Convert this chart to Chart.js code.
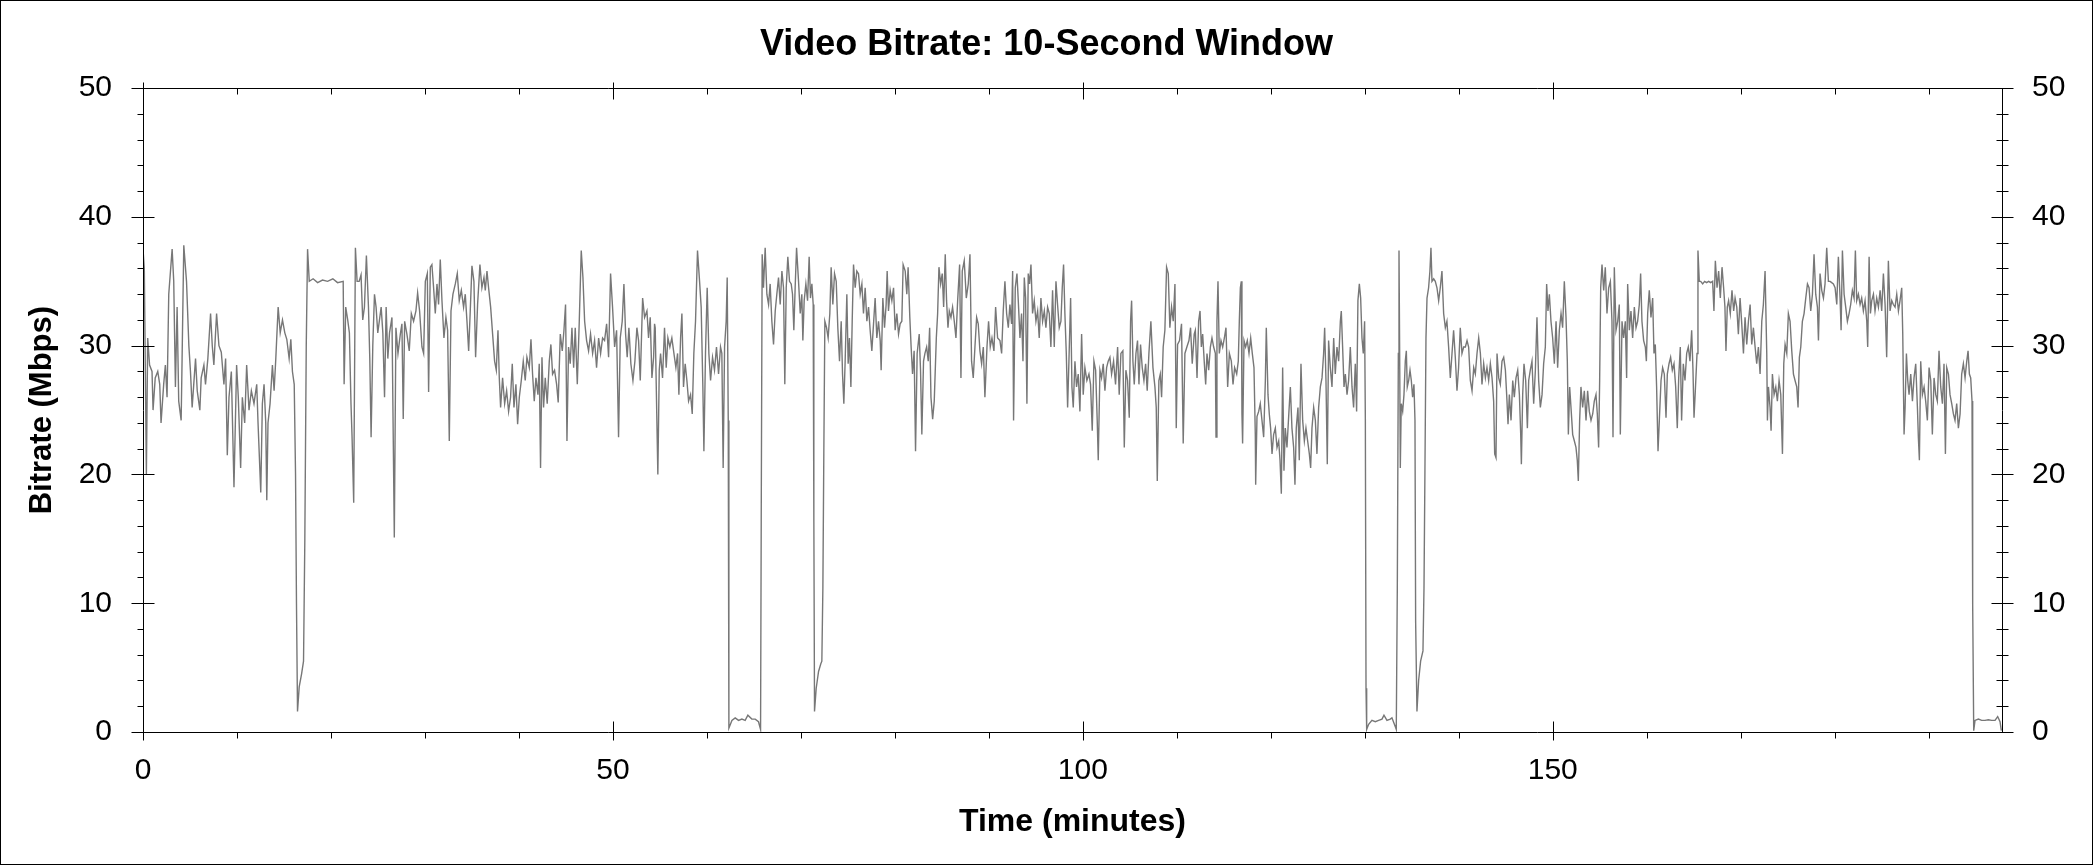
<!DOCTYPE html>
<html>
<head>
<meta charset="utf-8">
<script src="https://cdn.jsdelivr.net/npm/chart.js@4.4.1/dist/chart.umd.min.js"></script>
<style>
  html, body { margin: 0; padding: 0; background: #ffffff; }
  canvas { display: block; }
</style>
</head>
<body>
<canvas id="c" width="2093" height="865"></canvas>
<script>
// ---------------- DATA ----------------
const chartTitle = 'Video Bitrate: 10-Second Window';
const xAxisTitle = 'Time (minutes)';
const yAxisTitle = 'Bitrate (Mbps)';
const xMax = 197.8;
const xTickValues = [0, 50, 100, 150];
const yTickValues = [0, 10, 20, 30, 40, 50];
const xMinorStep = 10;
const yMinorStep = 2;

// time in minutes / bitrate in Mbps, segment by segment
const seg1Time = [
0,0.14,0.36,0.5,0.7,0.96,1.07,1.3,1.57,1.78,
1.92,2.2,2.38,2.56,2.74,3.1,3.27,3.45,3.63,3.8,
4.06,4.16,4.34,4.63,4.88,5.05,5.23,5.4,5.59,5.77,
6.05,6.19,6.48,6.65,6.9,7.19,7.37,7.54,7.83,8.08,
8.33,8.61,8.79,8.97,9.15,9.4,9.68,9.96,10.14,10.39,
10.57,10.82,11.03,11.28,11.53,11.81,12.1,12.24,12.53,12.7,
12.88,13.06,13.17,13.3,13.52,13.77,13.95,14.13,14.38,14.6,
14.84,15.09,15.3,15.55,15.73,15.9,16.09,16.23,16.33,16.44,
16.62,16.87,17.08,17.22,17.37,17.51,17.69,18.1,18.58,19.1,
19.64,20.2,20.7,21.3,21.4,21.57,21.78,21.96,22.13,22.24,
22.42,22.6,22.78,23.0,23.2,23.38,23.56,23.77,23.99,24.13,
24.27,24.45,24.63,24.8,24.98,25.16,25.34,25.52,25.7,25.87,
26.05,26.23];
const seg1Rate = [
37.5,36,20,30.6,28.5,28,25,27.5,28,27,
24,27,28.5,26,34,37.5,35,26.8,33,25.7,
24.2,29,37.8,35,30,28,25.2,27,29,26.5,
25,27.5,28.5,27,29,32.5,30,28.5,32.5,30,
29.5,27,29,21.5,26,28,19,28.5,26,20.5,
26,24,28.5,25,26.5,25.5,27,24,18.6,25.5,
27,24,18,24,25.5,28.5,26.5,29,33,31,
32,31,30.5,29,30.5,28,27,20,10,1.6,
3.5,4.5,5.5,15,30,37.5,35,35.2,34.9,35.1,
35,35.2,34.9,35,27,33,32,31,25.5,23,
17.8,37.6,35,35,35.5,32,33,37,33,29,
22.9,30,34,33,31,32,33,31,26,33,
29,31];

const seg2Time = [
26.49,26.74,26.91,27.13,27.38,27.55,27.69,27.84,28.08,28.33,
28.55,28.79,29.04,29.22,29.43,29.68,29.86,30.04,30.25,30.39,
30.57,30.74,30.92,31.1,31.28,31.45,31.63,31.81,32.02,32.23,
32.41,32.59,32.77,32.98,33.23,33.44,33.65,33.87,34.11,34.29,
34.47,34.65,34.82,35.0,35.21,35.39,35.6,35.85,36.06,36.28,
36.42,36.6,36.77,36.99,37.2,37.41,37.59,37.77,37.91,38.05,
38.26,38.48,38.69,38.9,39.11,39.29,39.47,39.68,39.86,40.04,
40.25,40.46,40.67,40.85,41.1,41.28,41.45,41.63,41.81,42.02,
42.16,42.3,42.45,42.62,42.8,43.01,43.23,43.4,43.58,43.79,
44.01,44.18,44.4,44.61,44.79,44.96,45.11,45.28,45.46,45.64,
45.82,45.99,46.21,46.42,46.63,46.81,46.99,47.2,47.41,47.62,
47.84,48.05,48.26,48.48,48.69,48.9,49.11,49.33,49.54,49.75,
49.96,50.18,50.39,50.6,50.78,50.99,51.17,51.35,51.52,51.7,
51.91,52.13,52.34,52.55,52.73,52.91,53.16,53.37,53.62,53.79,
53.97,54.15,54.33,54.43];
const seg2Rate = [
32.2,15.1,31.4,29.4,30.9,31.7,24.3,31.9,30.9,29.6,
32.5,31.9,32.7,34.1,32.7,29.9,29.4,35,35.6,26.4,
36.1,36.3,34.5,32.5,34.8,33.2,36.7,33.5,30.6,32.2,
31.2,22.6,32.7,34,34.8,35.6,33.5,34.3,33,34,
31.9,29.6,32.7,36.2,35,29.1,33.2,36.3,34.5,35.3,
34.3,35.8,34.5,33,30.9,28.8,28.1,31.2,27.5,25.2,
27.5,25.5,26.5,24.9,26,28.6,25.2,27,23.9,26,
27.3,28.8,27.3,29.1,28.3,30.5,27.8,25.7,27.5,26.2,
28.6,20.5,29.1,25.2,27.5,25.5,28.8,30.1,27.8,28.1,
27,25.6,30.9,29.6,31.2,33.2,22.6,29.9,28.6,31.4,
28.3,31.4,27,31.9,37.4,35.3,31.9,30.4,29.6,30.9,
29.4,30.4,28.3,30.6,29.4,30.6,30.4,31.7,29.1,35.6,
33,29.9,31.2,22.9,30.6,31.9,34.8,30.9,29.1,31.4,
28.6,27.3,28.8,31.4,30.4,27.3,33.7,32.2,32.7,30.6,
32.2,27.5,29.1,31.7];

const seg3Time = [
54.5,54.78,54.93,55.07,55.28,55.49,55.67,55.85,56.06,56.27,
56.49,56.7,56.88,57.02,57.2,57.34,57.51,57.69,57.87,58.05,
58.26,58.44,58.61,58.79,59.0,59.22,59.39,59.57,59.68,59.85,
60.03,60.21,60.39,60.6,60.81,61.02,61.24,61.45,61.59,61.73,
61.88,62.05,62.16,62.27,62.34,62.66,63.01,63.37,63.72,64.07,
64.36,64.78,65.14,65.49,65.71,65.78,65.88,66.02,66.2,66.38,
66.56,66.73,66.91,67.09,67.27,67.44,67.62,67.8,67.98,68.15,
68.29,68.44,68.61,68.79,68.97,69.11,69.25,69.39,69.54,69.75,
69.93,70.1,70.21,70.35,70.53,70.71,70.88,71.02,71.17,71.31,
71.38,71.45,71.63,71.88,72.12,72.23,72.34,72.44,72.55,72.73,
72.9,73.08,73.22,73.4,73.58,73.76,73.93,74.11,74.29,74.43,
74.57,74.71,74.89,75.03,75.17,75.32,75.46,75.6,75.78,75.95,
76.13,76.31,76.49,76.66,76.84,77.02,77.2,77.37,77.55,77.73,
77.9,78.08,78.26,78.44,78.54,78.72,78.9,79.07,79.18,79.32,
79.5,79.68,79.86,80.03,80.21,80.39,80.56,80.74,80.88,81.1,
81.27,81.41,81.59,81.73,81.88,82.05,82.2,82.37,82.59,82.73,
82.87,83.05];
const seg3Rate = [
31.4,20,28.1,29.4,27.5,31.4,28.3,30.6,29.9,30.6,
29.4,28.3,29.4,26.2,30.6,32.5,26.8,28.6,27.3,25.7,
26.2,24.7,29.4,31.9,37.4,35,33,26.8,21.8,29.4,
34.5,29.4,27.3,29.1,28.1,29.9,27.8,29.9,29.4,20.5,
29.9,31.9,35.3,24.2,0.3,0.9,1.1,0.9,1.0,0.9,
1.3,1.0,1.0,0.8,0.2,16.4,37.1,34.5,37.6,34,
33.2,34.8,31.9,30.1,32.7,34,35.3,33.2,35.8,34.5,
27,34.5,36.9,35,34.8,34,31.2,34.5,37.6,35,
32.5,34,30.4,33.5,34.8,33.5,36.9,33.7,34.8,33.2,
16.4,1.6,3.4,4.7,5.3,5.5,11.2,21.6,31.9,31.4,
30.6,32.5,36.1,33.2,35.6,35,31.4,28.8,31.9,27.8,
25.5,28.8,34,28.6,30.6,26.8,31.9,36.3,34.5,35.8,
35.6,34,34.8,32.5,34.5,31.9,33,31.2,29.6,31.7,
33.7,30.6,31.9,30.4,28.1,33.7,31.4,33.2,35.8,32.7,
34.3,33.5,34.5,31.2,32.5,30.9,31.7,31.9,36.3,35.8,
34,36.1,32.2,29.9,27.8,29.6,21.8,29.4,30.9,28.1,
23.1,28.8];

const seg4Time = [
83.2,83.38,83.55,83.7,83.84,84.02,84.19,84.41,84.55,84.69,
84.87,85.04,85.19,85.36,85.5,85.65,85.79,85.97,86.14,86.32,
86.5,86.68,86.89,87.03,87.17,87.38,87.6,87.81,87.99,88.16,
88.34,88.52,88.7,88.87,89.05,89.23,89.41,89.58,89.8,89.97,
90.15,90.33,90.54,90.72,90.93,91.18,91.36,91.53,91.71,91.89,
92.07,92.24,92.42,92.53,92.63,92.81,92.99,93.13,93.31,93.48,
93.63,93.77,93.91,94.05,94.19,94.33,94.48,94.65,94.83,95.01,
95.19,95.36,95.54,95.72,95.9,96.07,96.25,96.43,96.6,96.78,
96.96,97.14,97.31,97.49,97.67,97.81,97.95,98.09,98.24,98.38,
98.52,98.7,98.84,98.98,99.16,99.33,99.51,99.69,99.87,100.04,
100.22,100.43,100.65,100.82,101.0,101.18,101.36,101.53,101.64,101.82,
101.99,102.17,102.35,102.53,102.7,102.88,103.06,103.27,103.48,103.7,
103.87,104.05,104.26,104.41,104.58,104.76,104.94,105.08,105.19,105.33,
105.47,105.65,105.82,105.97,106.14,106.32,106.5,106.68,106.85,107.03,
107.24,107.46,107.67,107.81,107.92,108.09,108.24,108.38,108.55,108.73,
108.91,109.09,109.26,109.44,109.62,109.8,109.94,110.08,110.29,110.5,
110.68,110.86,111.07,111.29,111.46,111.64,111.85];
const seg4Rate = [
29.4,29.9,28.8,31.4,26,24.3,25.7,30.6,32.5,36.1,
34.8,35.6,33,37.1,33.5,31.4,32.7,32.2,33,31.9,
30.6,33.5,36.3,27.5,35.8,36.6,33.7,34.8,37.1,28.8,
27.5,29.9,32.2,31.7,29.6,28.6,29.9,26,29.9,31.9,
29.9,30.6,29.6,33,30.6,30.4,29.4,32.7,35,32.5,
31.4,33.2,31.7,35.8,24.2,34.5,35.6,33.5,30.6,32.5,
28.8,35.3,33.7,25.5,35.6,34.8,36.3,32.5,33.5,31.9,
32.7,30.6,33.7,31.9,32.7,31.4,33,32.5,29.9,34.3,
29.9,35,33.2,31.4,31.9,34.5,36.3,32.5,29.4,25.2,
28.8,33.7,26.8,25.2,28.8,26.8,27.8,24.9,30.9,26.2,
28.3,27.3,27.8,27,23.4,28.8,28.1,24.2,21.1,28.1,
27.5,28.6,26.5,28.3,28.8,29.1,27.8,28.8,27,29.9,
26.2,29.4,29.6,22.1,28.1,27.3,24.4,31.9,33.5,28.8,
27,29.4,30.4,27,30.1,28.3,27.3,28.6,26.5,29.4,
31.9,28.3,26.8,25.2,19.5,27.3,27.8,26,29.9,31.2,
36.1,35.6,31.4,33,31.9,34.8,23.6,30.1,30.4,31.7,
22.4,29.4,29.9,30.4,31.4,28.6,30.9];

const seg5Time = [
111.97,112.15,112.32,112.47,112.61,112.75,112.93,113.07,113.21,113.39,
113.57,113.74,113.92,114.1,114.17,114.27,114.38,114.52,114.7,114.88,
115.06,115.23,115.41,115.59,115.8,115.98,116.15,116.37,116.54,116.65,
116.76,116.86,116.93,117.0,117.15,117.32,117.5,117.68,117.86,118.03,
118.21,118.35,118.39,118.53,118.71,118.88,119.06,119.24,119.42,119.52,
119.7,119.84,119.98,120.13,120.3,120.48,120.66,120.84,120.98,121.12,
121.26,121.4,121.54,121.72,121.9,122.08,122.25,122.43,122.57,122.71,
122.89,123.03,123.21,123.39,123.57,123.74,123.92,124.1,124.24,124.38,
124.56,124.74,124.91,125.09,125.27,125.45,125.62,125.73,125.87,126.01,
126.15,126.33,126.51,126.69,126.86,127.04,127.22,127.4,127.5,127.64,
127.79,127.93,128.11,128.28,128.46,128.64,128.81,128.99,129.13,129.27,
129.42,129.56,129.7,129.84,129.98,130.06,130.13,130.2,130.41,130.76,
131.12,131.47,131.83,132.04,132.36,132.71,132.89,133.25,133.35,133.46,
133.57,133.64,133.71,133.78,133.88,134.03,134.17,134.31,134.42,134.52,
134.67,134.81,134.95,135.09,135.23,135.34,135.41,135.55,135.73,135.94,
136.19,136.3,136.4,136.51,136.62,136.79,136.93,137.04,137.15,137.33,
137.5,137.68,137.86,138.03,138.21,138.39,138.57,138.74,138.92,139.1,
139.28,139.45,139.63,139.81,139.98,140.16,140.34,140.52];
const seg5Rate = [
31.2,27.5,31.9,32.7,29.9,30.9,28.6,27,29.4,28.1,
29.9,30.6,29.9,29.4,22.9,31.9,35,29.4,30.4,29.9,
30.6,31.4,26.8,29.4,28.8,27,28.3,27.8,28.8,31.9,
34.5,35,24.7,22.4,30.4,29.9,30.4,29.4,30.6,29.4,
28.3,23.1,19.2,24.5,24.9,25.5,24.2,22.9,27.3,31.4,
26.2,24.7,23.6,21.6,23.1,23.6,22.1,22.6,21.1,18.5,
28.3,20.3,23.6,22.1,24.5,26.8,23.6,22.1,19.2,23.6,
25.2,21.1,28.6,24.2,22.6,23.6,22.6,21.6,20.5,23.6,
25.2,24.2,21.6,25.2,26.8,27.5,29.4,31.4,27.3,20.8,
30.4,28.3,26.8,30.6,27.8,29.9,28.8,31.9,32.7,29.9,
26.8,27.8,26.2,27.3,29.9,26.8,25.2,28.6,24.9,33.5,
34.8,33.7,30.6,29.4,31.9,24.2,3.4,0.2,0.6,0.9,
0.8,0.9,1.0,1.3,0.9,1.0,1.1,0.4,0.2,11.2,
29.4,37.4,29.4,20.5,25.5,24.9,26.2,28.8,29.6,26.8,
27.3,28.1,27.3,26,27,24.2,8.6,1.6,4,5.5,
6.3,11.2,20.3,30.6,33.7,34.5,35.8,37.6,35,35.2,
35,34.5,33.5,34.5,35.8,32.5,31.4,31.9,29.9,27.5,
29.4,31.2,29.1,26.5,28.3,31.4,29.4,29.9];

const seg6Time = [
140.7,140.88,141.05,141.23,141.41,141.59,141.76,141.94,142.12,142.3,
142.47,142.65,142.83,143.0,143.18,143.36,143.54,143.71,143.82,143.96,
144.07,144.25,144.42,144.6,144.78,144.96,145.13,145.24,145.38,145.56,
145.74,145.91,146.09,146.27,146.45,146.59,146.66,146.8,146.94,147.12,
147.3,147.44,147.61,147.79,147.97,148.15,148.32,148.5,148.68,148.86,
149.03,149.21,149.35,149.49,149.64,149.81,149.99,150.17,150.35,150.52,
150.7,150.88,151.05,151.23,151.41,151.55,151.66,151.8,151.94,152.12,
152.3,152.47,152.61,152.72,152.86,153.0,153.18,153.36,153.54,153.71,
153.89,154.07,154.25,154.42,154.6,154.74,154.88,154.99,155.1,155.24,
155.42,155.59,155.77,155.95,156.13,156.3,156.41,156.55,156.73,156.91,
157.08,157.19,157.37,157.54,157.72,157.86,157.97,158.15,158.32,158.5,
158.68,158.86,159.03,159.21,159.35,159.49,159.67,159.85,159.96,160.1,
160.27,160.45,160.63,160.77,160.91,161.05,161.2,161.34,161.52,161.69,
161.87,162.05,162.19,162.37,162.54,162.72,162.9,163.08,163.25,163.4,
163.57,163.71,163.89,164.07,164.25,164.42,164.6,164.78,164.92,165.03,
165.17,165.35,165.45,165.59,165.74,165.95,166.16,166.37,166.59,166.8,
167.01,167.15,167.3,167.48,167.65,167.83,168.01,168.18,168.32,168.43,
168.57,168.71,168.89,169.07,169.25];
const seg6Rate = [
29.9,30.4,29.9,27.3,26.5,28.3,27.8,29.4,30.6,29.4,
27,28.6,27.5,28.3,27.3,28.6,27.5,25.7,21.6,21.3,
29.4,27.5,27,28.8,29.1,28.1,25.7,23.9,26.2,24.2,
27.3,26,27.5,28.1,26.2,23.1,20.8,26.2,28.6,27.3,
23.6,27.3,28.1,28.8,25.5,28.1,32.2,27.3,25.2,26.2,
28.6,29.9,34.8,32.7,34,31.9,30.6,28.6,31.9,28.3,
31.2,32.5,31.4,35,32.2,28.8,23.1,26.8,25.2,23.1,
22.6,22.1,21.1,19.5,24.2,26.8,25.2,26.5,24.2,26.5,
24.9,24.2,24.7,25.7,26.2,24.7,22.1,27.3,34.5,36.3,
34.3,36.1,32.5,34.5,35,31.9,22.9,36.1,31.2,31.9,
33.2,23.1,31.9,30.6,31.9,27.5,34.8,31.2,32.7,30.6,
33,31.4,31.9,33.2,35.6,31.9,30.4,29.9,28.8,32.5,
34.3,32.2,33.7,29.4,30.1,26.8,21.8,24.2,27.3,28.3,
27.8,24.4,27.8,28.6,29.1,28.1,28.6,26.8,23.6,27.5,
29.9,24.2,28.6,27.3,29.4,29.9,28.8,31.2,28.1,24.4,
26.5,29.4,37.4,35,35,34.8,35,34.9,35,34.9,
35,32.7,36.6,34.5,35.8,33.7,36.1,34.5,33,29.6,
33,33.5,32.5,34.3,32.7];

const seg7Time = [
169.4,169.58,169.75,169.93,170.11,170.29,170.46,170.64,170.82,171.0,
171.17,171.35,171.53,171.7,171.88,172.06,172.24,172.41,172.59,172.77,
172.84,172.95,173.12,173.23,173.37,173.55,173.73,173.9,174.08,174.26,
174.44,174.58,174.72,174.9,175.07,175.25,175.43,175.61,175.78,175.96,
176.1,176.24,176.39,176.56,176.74,176.92,177.1,177.27,177.45,177.63,
177.8,177.98,178.16,178.27,178.44,178.62,178.8,178.97,179.15,179.33,
179.51,179.68,179.86,180.04,180.22,180.39,180.57,180.68,180.82,181.0,
181.17,181.35,181.53,181.7,181.88,182.06,182.2,182.34,182.52,182.7,
182.87,183.05,183.23,183.41,183.51,183.66,183.8,183.94,184.12,184.29,
184.47,184.65,184.83,185.0,185.18,185.36,185.53,185.71,185.89,186.07,
186.24,186.42,186.6,186.78,186.95,187.13,187.24,187.38,187.49,187.63,
187.77,187.91,188.09,188.27,188.44,188.62,188.8,188.9,189.01,189.15,
189.33,189.51,189.68,189.86,190.04,190.22,190.39,190.57,190.75,190.92,
191.1,191.28,191.46,191.63,191.78,191.92,192.1,192.27,192.45,192.63,
192.8,192.98,193.16,193.34,193.51,193.69,193.87,194.05,194.19,194.33,
194.47,194.61,194.68,194.79,194.93,195.29,195.64,195.99,196.35,196.7,
197.06,197.34,197.59,197.73];
const seg7Rate = [
33.7,33,30.9,33.7,31.7,29.4,32.2,30.1,31.9,33.2,
30.1,31.4,29.9,28.6,29.9,27.8,31.9,33.2,35.8,29.4,
24.2,26.8,25.2,23.4,27.8,26.2,26.8,25.7,27.3,26.2,
21.6,28.6,30.1,29.4,32.5,31.9,29.6,27.8,27.3,26.8,
25.2,29.1,29.9,31.9,32.5,33.7,34.8,34.5,32.7,34,
37.1,34,33,30.4,35.6,34.3,33.7,34.8,37.6,35,
35,34.9,34.8,34.5,33.2,36.9,33.7,31.2,37.4,34,
33,31.9,32.5,33.2,34.3,33.7,37.4,33.5,34,33.2,
33.7,32.7,33.5,31.9,29.9,36.9,32.5,33.5,34,32.7,
33.7,33,34.3,32.7,35.6,33.2,29.1,36.6,32.7,33.5,
33.2,33,34,32.7,33.5,34.5,30.9,23.1,25.2,29.4,
27.3,26.2,27.8,25.7,27.5,28.6,25.2,22.9,21.1,28.8,
26.2,26.8,25.7,24.2,28.3,27.3,23.1,27.5,26.2,25.7,
29.6,26.8,25.5,28.6,21.6,28.3,27.8,26.2,25.5,24.7,
24.2,25.5,23.6,24.7,27.8,28.6,27.5,28.8,29.6,27.8,
27.5,25.7,9.9,0.1,0.9,1.0,0.9,0.9,0.95,0.9,
0.9,1.2,0.8,0.1];

const timeMin = [].concat(seg1Time, seg2Time, seg3Time, seg4Time, seg5Time, seg6Time, seg7Time);
const bitrateMbps = [].concat(seg1Rate, seg2Rate, seg3Rate, seg4Rate, seg5Rate, seg6Rate, seg7Rate);

// ---------------- CHART ----------------
const FONT = '"Liberation Sans", Arial, Helvetica, sans-serif';
Chart.defaults.font.family = FONT;
Chart.defaults.color = '#000000';

const points = timeMin.map((t, i) => ({ x: t, y: bitrateMbps[i] }));

function range(step, max) {
  const out = [];
  for (let v = 0; v <= max + 1e-9; v += step) out.push(Math.round(v * 1000) / 1000);
  return out;
}

const framePlugin = {
  id: 'framePlugin',
  beforeDraw(chart) {
    const ctx = chart.ctx;
    ctx.save();
    ctx.fillStyle = '#ffffff';
    ctx.fillRect(0, 0, chart.width, chart.height);
    ctx.strokeStyle = '#000000';
    ctx.lineWidth = 1;
    ctx.strokeRect(0.5, 0.5, chart.width - 1, chart.height - 1);
    ctx.restore();
  },
  afterDraw(chart) {
    const ctx = chart.ctx;
    const a = chart.chartArea;
    const xs = chart.scales.x, ys = chart.scales.y;
    const L = Math.round(a.left) + 0.5, R = Math.round(a.right) + 0.5;
    const T = Math.round(a.top) + 0.5, B = Math.round(a.bottom) + 0.5;
    ctx.save();
    ctx.strokeStyle = '#000000';
    ctx.lineWidth = 1;
    ctx.beginPath();
    ctx.rect(L, T, R - L, B - T);
    range(yMinorStep, 50).forEach(v => {
      const y = Math.round(ys.getPixelForValue(v)) + 0.5;
      const major = Math.abs(v % 10) < 1e-6;
      if (major) {
        ctx.moveTo(L - 12, y); ctx.lineTo(L + 11, y);
        ctx.moveTo(R - 11, y); ctx.lineTo(R + 11, y);
      } else {
        ctx.moveTo(L - 6, y); ctx.lineTo(L, y);
        ctx.moveTo(R - 6, y); ctx.lineTo(R + 6, y);
      }
    });
    range(xMinorStep, xMax).forEach(v => {
      const x = Math.round(xs.getPixelForValue(v)) + 0.5;
      const major = Math.abs(v % 50) < 1e-6;
      if (major) {
        ctx.moveTo(x, B - 11); ctx.lineTo(x, B + 8);
        ctx.moveTo(x, T - 6); ctx.lineTo(x, T + 11);
      } else {
        ctx.moveTo(x, B); ctx.lineTo(x, B + 6);
        ctx.moveTo(x, T); ctx.lineTo(x, T + 6);
      }
    });
    ctx.stroke();
    ctx.restore();
  }
};

const tickFont = { family: FONT, size: 30 };

new Chart(document.getElementById('c'), {
  type: 'line',
  data: {
    datasets: [{
      data: points,
      borderColor: '#777777',
      borderWidth: 1.4,
      pointRadius: 0,
      pointHoverRadius: 0,
      tension: 0,
      fill: false
    }]
  },
  options: {
    responsive: false,
    animation: false,
    devicePixelRatio: 1,
    layout: { padding: 0 },
    events: [],
    plugins: {
      legend: { display: false },
      tooltip: { enabled: false },
      title: {
        display: true,
        text: chartTitle,
        font: { family: FONT, size: 36, weight: 'bold' },
        color: '#000000',
        padding: { top: 23, bottom: 22 }
      }
    },
    scales: {
      x: {
        type: 'linear',
        position: 'bottom',
        min: 0,
        max: xMax,
        afterBuildTicks: s => { s.ticks = xTickValues.map(v => ({ value: v })); },
        afterFit: s => { s.height = 133; },
        grid: { display: false, drawTicks: false },
        border: { display: false },
        ticks: { font: tickFont, color: '#000000', padding: 21, maxRotation: 0, autoSkip: false },
        title: { display: true, text: xAxisTitle, font: { family: FONT, size: 32, weight: 'bold' }, color: '#000000', padding: { top: 0, bottom: 24 } }
      },
      y: {
        type: 'linear',
        position: 'left',
        min: 0,
        max: 50,
        afterBuildTicks: s => { s.ticks = yTickValues.map(v => ({ value: v })); },
        afterFit: s => { s.width = 143; },
        grid: { display: false, drawTicks: false },
        border: { display: false },
        ticks: { font: tickFont, color: '#000000', padding: 31 },
        title: { display: true, text: yAxisTitle, font: { family: FONT, size: 31, weight: 'bold' }, color: '#000000', padding: { top: 24, bottom: 0 } }
      },
      y2: {
        type: 'linear',
        position: 'right',
        min: 0,
        max: 50,
        afterBuildTicks: s => { s.ticks = yTickValues.map(v => ({ value: v })); },
        afterFit: s => { s.width = 91; },
        grid: { display: false, drawTicks: false },
        border: { display: false },
        ticks: { font: tickFont, color: '#000000', padding: 30 }
      }
    }
  },
  plugins: [framePlugin]
});
</script>
</body>
</html>
